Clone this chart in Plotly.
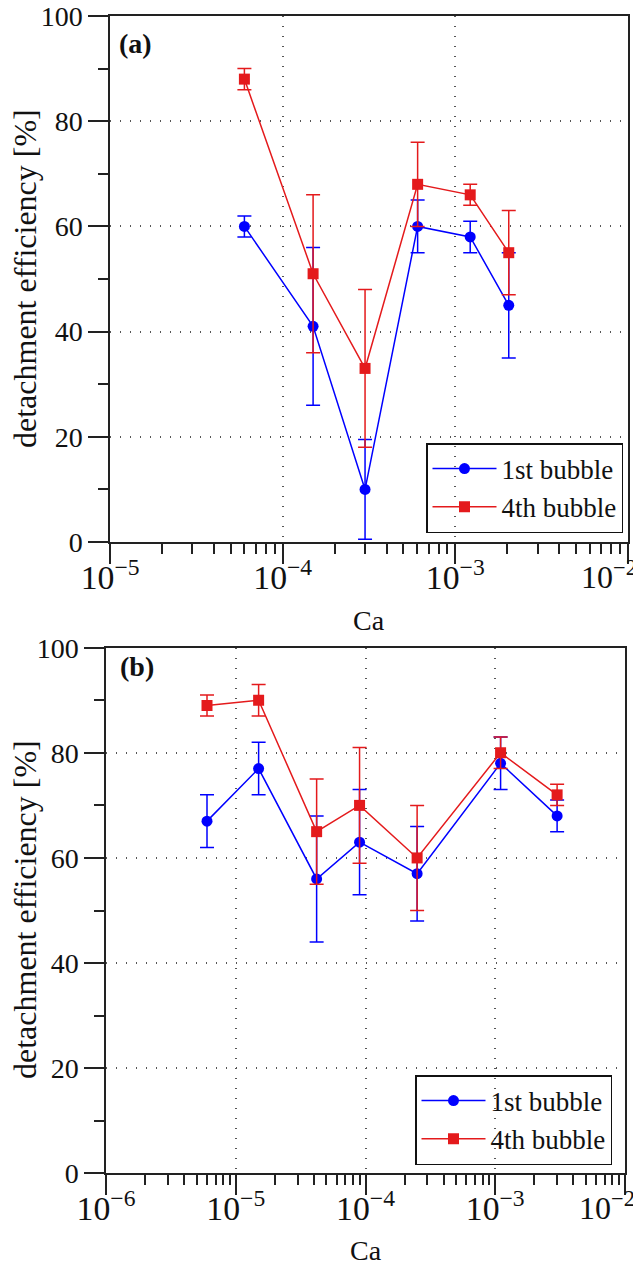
import plotly.graph_objects as go

# ---------------- data: panel (a) ----------------
ca_a = [6.0e-5, 1.5e-4, 3.0e-4, 6.05e-4, 1.22e-3, 2.04e-3]
first_a = [60, 41, 10, 60, 58, 45]
first_a_err = [2, 15, 9.5, 5, 3, 10]
fourth_a = [88, 51, 33, 68, 66, 55]
fourth_a_err = [2, 15, 15, 8, 2, 8]

# ---------------- data: panel (b) ----------------
ca_b = [6.0e-6, 1.5e-5, 4.2e-5, 9.0e-5, 2.5e-4, 1.1e-3, 3.0e-3]
first_b = [67, 77, 56, 63, 57, 78, 68]
first_b_err = [5, 5, 12, 10, 9, 5, 3]
fourth_b = [89, 90, 65, 70, 60, 80, 72]
fourth_b_err = [2, 3, 10, 11, 10, 3, 2]

series_names = ["1st bubble", "4th bubble"]
y_ticks = [0, 20, 40, 60, 80, 100]
x_title = "Ca"
y_title = "detachment efficiency [%]"
edge_tick_label = "10<sup>\u22122</sup>"

BLUE = "#0000ff"
RED = "#e41a1c"
FONT = "Liberation Serif, Times New Roman, serif"
AX = "#222222"
TXT = "#111111"
W, H = 641, 1270
OFF = 8  # page body margin
XTICK = 27


def px(x):
    return (x - OFF) / W


def py(y):
    return 1 - (y - OFF) / H


fig = go.Figure()


def add_series(x, y, err, name, color, symbol, xa, ya, legend):
    fig.add_trace(go.Scatter(
        x=x, y=y, name=name, mode="lines+markers",
        line=dict(color=color, width=1.5),
        marker=dict(color=color, symbol=symbol, size=11, line=dict(width=0)),
        error_y=dict(type="data", array=err, visible=True, color=color,
                     thickness=1.5, width=7),
        xaxis=xa, yaxis=ya, legend=legend,
    ))


add_series(ca_a, first_a, first_a_err, series_names[0], BLUE, "circle", "x", "y", "legend")
add_series(ca_a, fourth_a, fourth_a_err, series_names[1], RED, "square", "x", "y", "legend")
add_series(ca_b, first_b, first_b_err, series_names[0], BLUE, "circle", "x2", "y2", "legend2")
add_series(ca_b, fourth_b, fourth_b_err, series_names[1], RED, "square", "x2", "y2", "legend2")


def xaxis_cfg(rng, dom, anchor):
    return dict(
        type="log", range=rng, domain=dom, anchor=anchor, automargin=False,
        dtick=1, exponentformat="power", showexponent="all",
        showline=True, linecolor=AX, linewidth=1.5, mirror=True,
        ticks="outside", ticklen=20, tickwidth=1.5, tickcolor=AX,
        ticklabelstandoff=-14,
        showgrid=True, gridcolor="#555555", gridwidth=1.5, griddash="1px,9px",
        minor=dict(ticks="outside", ticklen=10, tickwidth=1.5, tickcolor=AX,
                   dtick="D1", showgrid=False),
        tickfont=dict(family=FONT, size=XTICK, color=TXT),
        zeroline=False,
    )


def yaxis_cfg(dom, anchor):
    return dict(
        range=[0, 100], domain=dom, anchor=anchor, automargin=False,
        tickvals=y_ticks, ticklabeloverflow="allow",
        showline=True, linecolor=AX, linewidth=1.5, mirror=True,
        ticks="outside", ticklen=20, tickwidth=1.5, tickcolor=AX,
        showgrid=True, gridcolor="#555555", gridwidth=1.5, griddash="1px,9px",
        minor=dict(ticks="outside", ticklen=10, tickwidth=1.5, tickcolor=AX,
                   dtick=10, showgrid=False),
        tickfont=dict(family=FONT, size=28, color=TXT),
        zeroline=False,
    )


legend_style = dict(
    bgcolor="rgba(0,0,0,0)", bordercolor=TXT, borderwidth=1.5,
    font=dict(family=FONT, size=27, color=TXT),
    xanchor="left", yanchor="top", tracegroupgap=0, itemwidth=64,
)


def txt(text, x, y, size=28, angle=0, xanchor="center", yanchor="middle"):
    return dict(text=text, x=px(x), y=py(y), xref="paper", yref="paper",
                xanchor=xanchor, yanchor=yanchor, showarrow=False, textangle=angle,
                font=dict(family=FONT, size=size, color=TXT))


fig.update_layout(
    width=W, height=H, autosize=False,
    margin=dict(l=0, r=0, t=0, b=0, autoexpand=False),
    paper_bgcolor="white", plot_bgcolor="white",
    xaxis=xaxis_cfg([-5.0005, -1.9995], [px(110), px(628)], "y"),
    yaxis=yaxis_cfg([py(542), py(16)], "x"),
    xaxis2=xaxis_cfg([-6.0005, -1.9995], [px(106), px(625)], "y2"),
    yaxis2=yaxis_cfg([py(1173.3), py(647.7)], "x2"),
    legend=dict(x=px(426), y=py(443), **legend_style),
    legend2=dict(x=px(415), y=py(1075), **legend_style),
    showlegend=True,
    annotations=[
        txt("<b>(a)</b>", 117, 44, xanchor="left"),
        txt("<b>(b)</b>", 118, 666, xanchor="left"),
        txt(x_title, 369, 620),
        txt(x_title, 366, 1250),
        txt(y_title, 25, 279, size=32, angle=-90),
        txt(y_title, 25, 910, size=32, angle=-90),
        txt(edge_tick_label, 639, 553, size=32, xanchor="right", yanchor="top"),
        txt(edge_tick_label, 637, 1184, size=32, xanchor="right", yanchor="top"),
    ],
)

fig.write_html("out.html")
